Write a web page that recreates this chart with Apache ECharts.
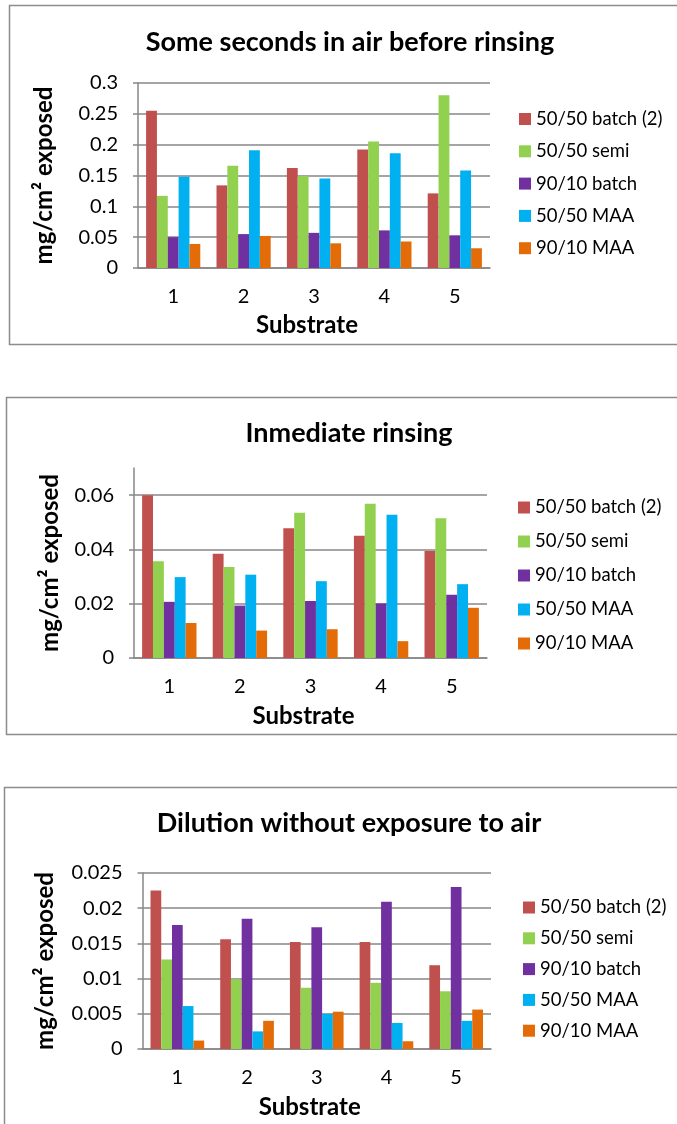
<!DOCTYPE html>
<html>
<head>
<meta charset="utf-8">
<script src="https://cdn.jsdelivr.net/npm/echarts@6/dist/echarts.min.js"></script>
<style>
  html, body { margin: 0; padding: 0; background: #ffffff; }
  body { width: 677px; height: 1124px; position: relative; overflow: hidden; }
  .panel { position: absolute; left: 0; width: 677px; }
</style>
</head>
<body>
<div id="p1" class="panel" style="top:0;height:390px"></div>
<div id="p2" class="panel" style="top:390px;height:390px"></div>
<div id="p3" class="panel" style="top:780px;height:344px"></div>
<script>
// Substrate categories and series names shared by all three panels
const categories = ['1', '2', '3', '4', '5'];
const seriesNames = ['50/50 batch (2)', '50/50 semi', '90/10 batch', '50/50 MAA', '90/10 MAA'];

// Panel 1: some seconds in air before rinsing (mg/cm² exposed)
const airBatch5050 = [0.255, 0.134, 0.162, 0.192, 0.121];
const airSemi5050  = [0.117, 0.166, 0.149, 0.205, 0.280];
const airBatch9010 = [0.050, 0.055, 0.057, 0.061, 0.053];
const airMaa5050   = [0.148, 0.191, 0.145, 0.186, 0.158];
const airMaa9010   = [0.039, 0.052, 0.040, 0.043, 0.032];

// Panel 2: immediate rinsing
const immBatch5050 = [0.0600, 0.0384, 0.0478, 0.0450, 0.0394];
const immSemi5050  = [0.0356, 0.0335, 0.0535, 0.0568, 0.0515];
const immBatch9010 = [0.0207, 0.0193, 0.0210, 0.0201, 0.0233];
const immMaa5050   = [0.0298, 0.0307, 0.0283, 0.0528, 0.0272];
const immMaa9010   = [0.0129, 0.0101, 0.0106, 0.0062, 0.0185];

// Panel 3: dilution without exposure to air
const dilBatch5050 = [0.0225, 0.0156, 0.0152, 0.0152, 0.0119];
const dilSemi5050  = [0.0127, 0.0099, 0.0087, 0.0094, 0.0082];
const dilBatch9010 = [0.0176, 0.0185, 0.0173, 0.0209, 0.0230];
const dilMaa5050   = [0.0061, 0.0025, 0.0050, 0.0037, 0.0040];
const dilMaa9010   = [0.0012, 0.0040, 0.0053, 0.0011, 0.0056];

const palette = ['#C0504D', '#92D050', '#7030A0', '#00B0F0', '#E36C09'];
const FONT = 'Lato, "Open Sans", sans-serif';
const AXIS_GREY = '#878787';

function buildPanel(el, cfg) {
  const chart = echarts.init(document.getElementById(el), null, { renderer: 'canvas' });
  const option = {
    animation: false,
    backgroundColor: '#ffffff',
    color: palette,
    textStyle: { fontFamily: FONT },
    title: {
      text: cfg.title,
      left: cfg.titleX, top: cfg.titleTop, textAlign: 'center', padding: 0,
      textStyle: { fontFamily: FONT, fontWeight: 'bold', fontSize: 27, color: '#000' }
    },
    graphic: [{
      type: 'rect', silent: true, z: -1,
      shape: cfg.frame,
      style: { fill: 'none', stroke: '#8c8c8c', lineWidth: 1.5 }
    }],
    legend: {
      orient: 'vertical',
      left: cfg.legendX, top: cfg.legendTop,
      padding: 0,
      itemWidth: 12, itemHeight: 12,
      itemGap: cfg.legendGap,
      icon: 'rect',
      data: seriesNames,
      textStyle: { fontFamily: FONT, fontSize: 18.5, color: '#000', lineHeight: 18 }
    },
    grid: Object.assign({ containLabel: false }, cfg.grid),
    xAxis: {
      type: 'category',
      data: categories,
      name: 'Substrate',
      nameLocation: 'middle',
      nameGap: cfg.xNameGap,
      nameTextStyle: { fontFamily: FONT, fontWeight: 'bold', fontSize: 24, color: '#000', padding: [0, 14, 0, 0] },
      axisLine: { lineStyle: { color: AXIS_GREY, width: 1.5 } },
      axisTick: { length: 6, lineStyle: { color: AXIS_GREY, width: 1.5 } },
      axisLabel: { fontFamily: FONT, fontSize: 20, color: '#000', margin: 19 }
    },
    yAxis: {
      type: 'value',
      min: 0, max: cfg.yMax, interval: cfg.yInterval,
      name: 'mg/cm² exposed',
      nameLocation: 'middle',
      nameRotate: 90,
      nameGap: cfg.yNameGap,
      nameTextStyle: { fontFamily: FONT, fontWeight: 'bold', fontSize: 24, color: '#000' },
      axisLine: { show: true, lineStyle: { color: AXIS_GREY, width: 1.5 } },
      axisTick: { show: true, length: 5, lineStyle: { color: AXIS_GREY, width: 1.5 } },
      axisLabel: { fontFamily: FONT, fontSize: 20, color: '#000', margin: 20, showMaxLabel: cfg.showMax },
      splitLine: { show: true, showMaxLine: cfg.showMax, lineStyle: { color: AXIS_GREY, width: 1.5 } }
    },
    series: cfg.values.map(function (vals, i) {
      return {
        type: 'bar', name: seriesNames[i], data: vals,
        barGap: '0%', barCategoryGap: '23%'
      };
    })
  };
  chart.setOption(option);
}

buildPanel('p1', {
  title: 'Some seconds in air before rinsing',
  titleX: 350, titleTop: 29,
  frame: { x: 9.5, y: 5.5, width: 700, height: 339 },
  legendX: 519, legendTop: 109.5, legendGap: 13.3,
  grid: { left: 138, top: 83, width: 352, height: 185 },
  xNameGap: 45,
  yMax: 0.3, yInterval: 0.05, showMax: true, yNameGap: 82,
  values: [airBatch5050, airSemi5050, airBatch9010, airMaa5050, airMaa9010]
});

buildPanel('p2', {
  title: 'Inmediate rinsing',
  titleX: 349, titleTop: 30,
  frame: { x: 6.5, y: 7.5, width: 700, height: 337 },
  legendX: 518, legendTop: 108, legendGap: 15,
  grid: { left: 134, top: 78, width: 353, height: 190 },
  xNameGap: 46,
  yMax: 0.07, yInterval: 0.02, showMax: false, yNameGap: 72,
  values: [immBatch5050, immSemi5050, immBatch9010, immMaa5050, immMaa9010]
});

buildPanel('p3', {
  title: 'Dilution without exposure to air',
  titleX: 349, titleTop: 30,
  frame: { x: 4.5, y: 7.5, width: 700, height: 400 },
  legendX: 523, legendTop: 118, legendGap: 11.8,
  grid: { left: 142.5, top: 93, width: 348.5, height: 177 },
  xNameGap: 46,
  yMax: 0.025, yInterval: 0.005, showMax: true, yNameGap: 85,
  values: [dilBatch5050, dilSemi5050, dilBatch9010, dilMaa5050, dilMaa9010]
});
</script>
</body>
</html>
